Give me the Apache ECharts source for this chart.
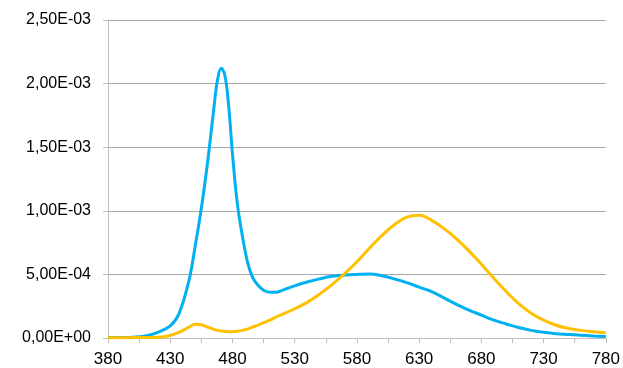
<!DOCTYPE html>
<html>
<head>
<meta charset="utf-8">
<script src="https://cdn.jsdelivr.net/npm/echarts@6/dist/echarts.min.js"></script>
<style>
html,body{margin:0;padding:0;background:#fff;}
#c{width:623px;height:368px;}
</style>
</head>
<body>
<div id="c"></div>
<script>
var wavelengths = [380,390,400,410,420,430,437,445,450,455,460,465,468,471,474,477,480,484,488,492,496,500,505,510,515,520,530,540,550,560,570,580,590,600,610,620,630,640,650,660,670,680,690,700,710,720,730,740,750,760,770,780];
var blueValues = [0.003,0.004,0.006,0.015,0.045,0.095,0.19,0.45,0.72,1.02,1.38,1.8,2.03,2.12,2.06,1.82,1.45,1.05,0.8,0.6,0.48,0.42,0.375,0.36,0.36,0.375,0.41,0.44,0.465,0.485,0.495,0.5,0.503,0.49,0.465,0.435,0.4,0.364,0.315,0.265,0.22,0.18,0.14,0.11,0.082,0.06,0.045,0.034,0.028,0.022,0.016,0.011];
var yellowValues = [0.002,0.002,0.003,0.004,0.006,0.02,0.045,0.085,0.108,0.105,0.085,0.068,0.06,0.055,0.052,0.05,0.05,0.053,0.06,0.07,0.085,0.1,0.12,0.14,0.165,0.185,0.23,0.28,0.345,0.42,0.505,0.6,0.705,0.805,0.89,0.95,0.965,0.925,0.86,0.78,0.685,0.58,0.47,0.365,0.27,0.195,0.14,0.1,0.075,0.06,0.05,0.042];
var yScale = 1e-3;
var yTicks = [0, 0.0005, 0.001, 0.0015, 0.002, 0.0025];

function pairs(vals){
  return wavelengths.map(function(w,i){ return [w, vals[i]*yScale]; });
}
function sci(v){
  if (Math.abs(v) < 1e-12) return '0,00E+00';
  var s = v.toExponential(2).split('e');
  var e = parseInt(s[1],10);
  var es = (e<0?'-':'+') + (Math.abs(e)<10?'0':'') + Math.abs(e);
  return s[0].replace('.', ',') + 'E' + es;
}
var chart = echarts.init(document.getElementById('c'), null, {renderer:'canvas'});
chart.setOption({
  animation:false,
  backgroundColor:'#fff',
  grid:{left:108,right:15,top:20,bottom:30},
  xAxis:{
    type:'value',min:380,max:780,interval:25,
    axisLine:{show:true,lineStyle:{color:'#bfbfbf',width:1}},
    axisTick:{show:true,length:5,lineStyle:{color:'#bfbfbf'}},
    splitLine:{show:false},
    axisLabel:{
      margin:13,color:'#000',fontFamily:'Liberation Sans, Arial, sans-serif',fontSize:17,
      formatter:function(v){ return ((v-380)%50===0) ? String(v) : ''; }
    }
  },
  yAxis:{
    type:'value',min:yTicks[0],max:yTicks[yTicks.length-1],interval:yTicks[1]-yTicks[0],
    axisLine:{show:true,lineStyle:{color:'#bfbfbf',width:1}},
    axisTick:{show:true,length:5,lineStyle:{color:'#bfbfbf'}},
    splitLine:{show:true,lineStyle:{color:'#a6a6a6',width:1}},
    axisLabel:{margin:17,color:'#000',fontFamily:'Liberation Sans, Arial, sans-serif',fontSize:16,formatter:sci}
  },
  series:[
    {type:'line',data:pairs(blueValues),showSymbol:false,smooth:0.4,lineStyle:{color:'#00b0f0',width:3},itemStyle:{color:'#00b0f0'}},
    {type:'line',data:pairs(yellowValues),showSymbol:false,smooth:0.4,lineStyle:{color:'#ffc000',width:3},itemStyle:{color:'#ffc000'}}
  ]
});
</script>
</body>
</html>
